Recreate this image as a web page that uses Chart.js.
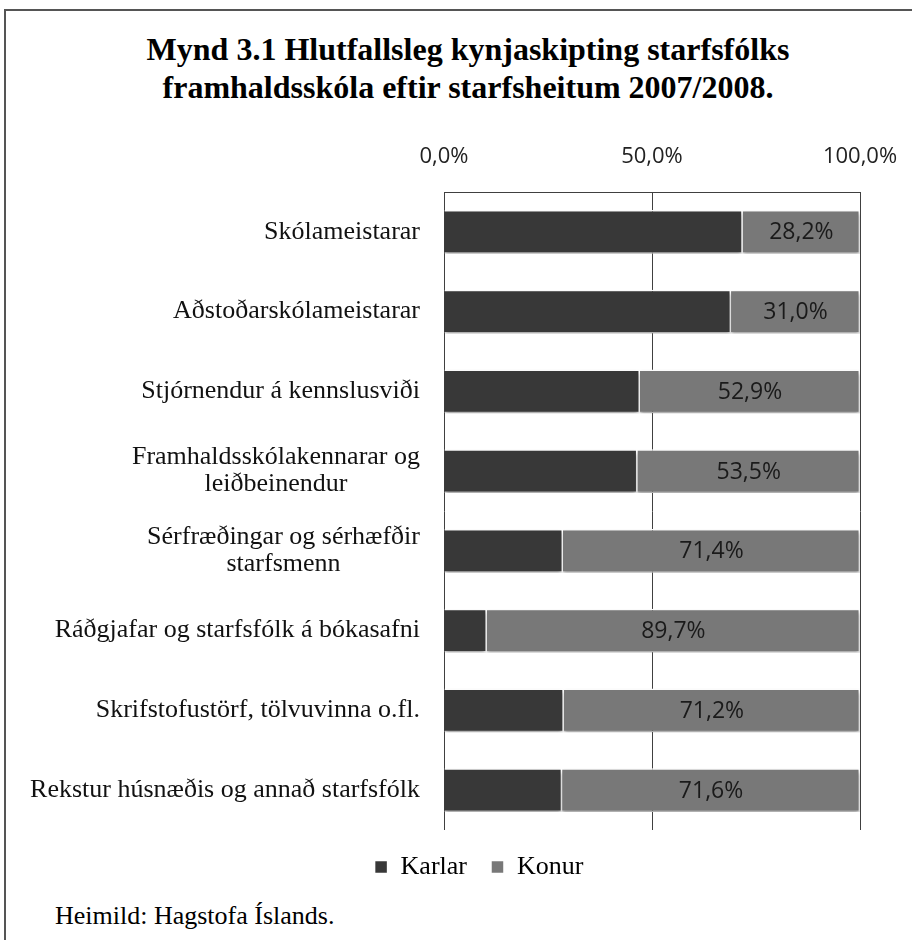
<!DOCTYPE html>
<html>
<head>
<meta charset="utf-8">
<script src="https://cdn.jsdelivr.net/npm/chart.js@4.4.0/dist/chart.umd.min.js"></script>
<style>
  body { margin: 0; background: #fff; width: 912px; height: 940px; overflow: hidden; position: relative; }
  #frame { position: absolute; left: 4px; top: 9px; width: 920px; height: 940px; border-left: 2px solid #555; border-top: 2px solid #555; }
  #title { position: absolute; left: 0; top: 30px; width: 936px; text-align: center; font: bold 32px "Times New Roman", "Liberation Serif", "DejaVu Serif", serif; line-height: 38px; color: #000; }
  #source { position: absolute; left: 55px; top: 901px; font: 26px "Times New Roman", "Liberation Serif", "DejaVu Serif", serif; color: #000; }
  #wrap { position: absolute; left: 0; top: 120px; width: 912px; height: 778px; }
</style>
</head>
<body>
<div id="frame"></div>
<div id="title">Mynd 3.1 Hlutfallsleg kynjaskipting starfsfólks<br>framhaldsskóla eftir starfsheitum 2007/2008.</div>
<div id="wrap"><canvas id="chart"></canvas></div>
<div id="source">Heimild: Hagstofa Íslands.</div>
<script>
// ── Data ─────────────────────────────────────────────
const categories = [
    'Skólameistarar',
    'Aðstoðarskólameistarar',
    'Stjórnendur á kennslusviði',
    ['Framhaldsskólakennarar og', 'leiðbeinendur'],
    ['Sérfræðingar og sérhæfðir', 'starfsmenn'],
    'Ráðgjafar og starfsfólk á bókasafni',
    'Skrifstofustörf, tölvuvinna o.fl.',
    'Rekstur húsnæðis og annað starfsfólk'
];
const karlar = [71.8, 69.0, 47.1, 46.5, 28.6, 10.3, 28.8, 28.4];
const konur = [28.2, 31.0, 52.9, 53.5, 71.4, 89.7, 71.2, 71.6];
const xTicks = [0, 50, 100];

const SERIF = '"Times New Roman", "Liberation Serif", "DejaVu Serif", serif';
const fmt = v => v.toFixed(1).replace('.', ',') + '%';

// shadow under the bars
const barShadow = {
    id: 'barShadow',
    beforeDatasetsDraw(chart) {
        const ctx = chart.ctx;
        ctx.save();
        ctx.shadowColor = 'rgba(0,0,0,0.35)';
        ctx.shadowBlur = 4;
        ctx.shadowOffsetY = 3;
    },
    afterDatasetsDraw(chart) {
        chart.ctx.restore();
    }
};

// value labels inside the Konur segments
const valueLabels = {
    id: 'valueLabels',
    afterDatasetsDraw(chart) {
        const ctx = chart.ctx;
        const meta = chart.getDatasetMeta(1);
        ctx.save();
        ctx.font = '23px "Open Sans", sans-serif';
        ctx.fillStyle = '#1a1a1a';
        ctx.textAlign = 'center';
        ctx.textBaseline = 'middle';
        meta.data.forEach((bar, i) => {
            ctx.fillText(fmt(konur[i]), (bar.x + bar.base) / 2, bar.y + 1);
        });
        ctx.restore();
    }
};

// category labels: block right-aligned to the axis, lines centred in the block
const catLabels = {
    id: 'catLabels',
    afterDraw(chart) {
        const ctx = chart.ctx;
        const y = chart.scales.y;
        const right = chart.chartArea.left - 24;
        const lh = 27;
        ctx.save();
        ctx.font = '26px ' + SERIF;
        ctx.fillStyle = '#111';
        ctx.textAlign = 'center';
        ctx.textBaseline = 'middle';
        categories.forEach((lab, i) => {
            const lines = Array.isArray(lab) ? lab : [lab];
            const w = Math.max(...lines.map(l => ctx.measureText(l).width));
            const cx = right - w / 2;
            const yc = y.getPixelForTick(i);
            lines.forEach((l, j) => {
                ctx.fillText(l, cx, yc + (j - (lines.length - 1) / 2) * lh);
            });
        });
        ctx.restore();
    }
};

new Chart(document.getElementById('chart'), {
    type: 'bar',
    data: {
        labels: categories,
        datasets: [
            {
                label: 'Karlar',
                data: karlar,
                backgroundColor: '#383838',
                borderColor: '#ffffff',
                borderWidth: 1.5,
                barPercentage: 0.55,
                categoryPercentage: 1
            },
            {
                label: 'Konur',
                data: konur,
                backgroundColor: '#787878',
                borderColor: '#ffffff',
                borderWidth: 1.5,
                barPercentage: 0.55,
                categoryPercentage: 1
            }
        ]
    },
    options: {
        indexAxis: 'y',
        responsive: true,
        maintainAspectRatio: false,
        animation: false,
        layout: { padding: { left: 98, right: 52, top: 0, bottom: 8 } },
        plugins: {
            legend: {
                position: 'bottom',
                labels: {
                    boxWidth: 13,
                    boxHeight: 13,
                    padding: 24,
                    color: '#000',
                    font: { family: SERIF, size: 26 }
                }
            },
            tooltip: { enabled: false }
        },
        scales: {
            x: {
                position: 'top',
                stacked: true,
                min: 0,
                max: 100,
                afterBuildTicks: scale => { scale.ticks = xTicks.map(v => ({ value: v })); },
                afterFit: scale => {
                    scale.height = 72;
                    scale.paddingLeft = 0;
                    scale.paddingRight = 0;
                },
                grid: { color: '#404040', lineWidth: 1, drawTicks: false },
                border: { display: true, color: '#404040' },
                ticks: {
                    padding: 22,
                    color: '#222',
                    font: { family: 'Open Sans', size: 22 },
                    callback: v => fmt(v)
                }
            },
            y: {
                stacked: true,
                afterFit: scale => { scale.width = 346; },
                grid: { display: false },
                border: { display: false },
                ticks: { display: false }
            }
        }
    },
    plugins: [barShadow, valueLabels, catLabels]
});
</script>
</body>
</html>
